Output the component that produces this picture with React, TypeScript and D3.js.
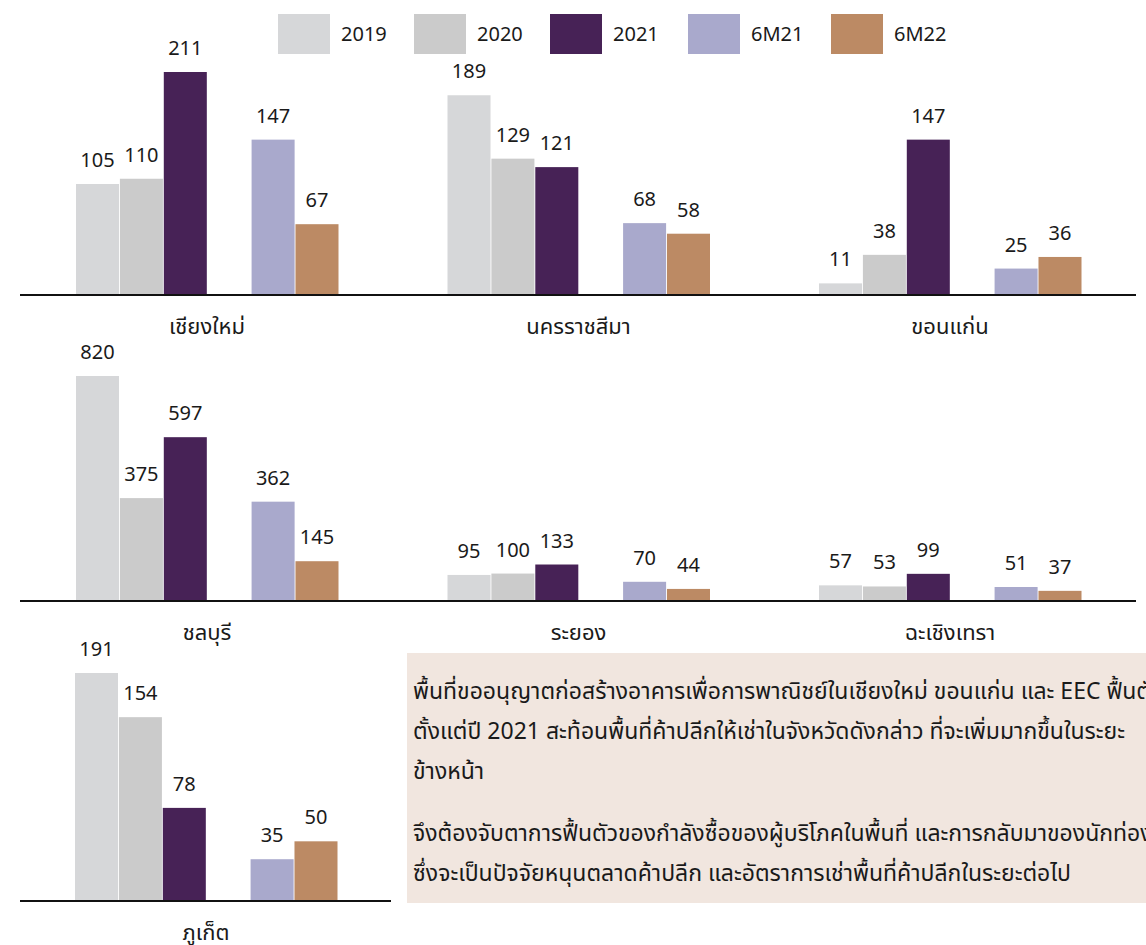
import React from "react";
import * as d3 from "d3";

const series = ["2019", "2020", "2021", "6M21", "6M22"];
const colors = ["#d6d7d9", "#cbcbcb", "#472256", "#a9a9cc", "#bc8a64"];
const slots = ["2019", "2020", "2021", "gap", "6M21", "6M22"];

const provinces = ["เชียงใหม่", "นครราชสีมา", "ขอนแก่น", "ชลบุรี", "ระยอง", "ฉะเชิงเทรา", "ภูเก็ต"];
const vChiangMai = [105, 110, 211, 147, 67];
const vKorat = [189, 129, 121, 68, 58];
const vKhonKaen = [11, 38, 147, 25, 36];
const vChonburi = [820, 375, 597, 362, 145];
const vRayong = [95, 100, 133, 70, 44];
const vChachoengsao = [57, 53, 99, 51, 37];
const vPhuket = [191, 154, 78, 35, 50];
const allValues = [vChiangMai, vKorat, vKhonKaen, vChonburi, vRayong, vChachoengsao, vPhuket];

const noteLines1 = [
  "พื้นที่ขออนุญาตก่อสร้างอาคารเพื่อการพาณิชย์ในเชียงใหม่ ขอนแก่น และ EEC ฟื้นตัว",
  "ตั้งแต่ปี 2021 สะท้อนพื้นที่ค้าปลีกให้เช่าในจังหวัดดังกล่าว ที่จะเพิ่มมากขึ้นในระยะ",
  "ข้างหน้า",
];
const noteLines2 = [
  "จึงต้องจับตาการฟื้นตัวของกำลังซื้อของผู้บริโภคในพื้นที่ และการกลับมาของนักท่องเที่ยว",
  "ซึ่งจะเป็นปัจจัยหนุนตลาดค้าปลีก และอัตราการเช่าพื้นที่ค้าปลีกในระยะต่อไป",
];

const W = 1146;
const H = 945;
const FONT = "'Noto Sans', 'Noto Sans Thai', 'Open Sans', sans-serif";

// layout
const rowBase = [295, 601, 901];
const rowHeight = [223, 225, 228];
const colX0 = 76;
const colStep = 371.5;
const legendX = [278, 414, 550, 688, 831];

export default function App() {
  const band = d3.scaleBand<string>().domain(slots).range([0, 262.5]).paddingInner(0.02).paddingOuter(0);

  const rowMax = [0, 1, 2].map((r) =>
    d3.max(allValues.filter((_, i) => Math.floor(i / 3) === r).flat()) as number
  );
  const yScales = [0, 1, 2].map((r) =>
    d3.scaleLinear().domain([0, rowMax[r]]).range([rowBase[r], rowBase[r] - rowHeight[r]])
  );

  return (
    <svg
      width={W}
      height={H}
      style={{ position: "absolute", left: 0, top: 0, display: "block", background: "#fff" }}
      fontFamily={FONT}
    >
      {/* legend */}
      {series.map((s, i) => (
        <g key={s} transform={`translate(${legendX[i]},14)`}>
          <rect width={52} height={40} fill={colors[i]} />
          <text x={63} y={27} fontSize={20} fill="#1a1a1a">
            {s}
          </text>
        </g>
      ))}

      {/* axis lines */}
      <line x1={20} x2={1136} y1={rowBase[0]} y2={rowBase[0]} stroke="#111" strokeWidth={2} />
      <line x1={20} x2={1136} y1={rowBase[1]} y2={rowBase[1]} stroke="#111" strokeWidth={2} />
      <line x1={20} x2={391} y1={rowBase[2]} y2={rowBase[2]} stroke="#111" strokeWidth={2} />

      {provinces.map((p, pi) => {
        const row = Math.floor(pi / 3);
        const col = pi % 3;
        const x0 = colX0 + col * colStep - (row === 2 ? 1 : 0);
        const y = yScales[row];
        const vals = allValues[pi];
        return (
          <g key={p} transform={`translate(${x0},0)`}>
            {vals.map((v, si) => {
              const bx = band(series[si]) as number;
              return (
                <g key={si}>
                  <rect
                    x={bx}
                    y={y(v)}
                    width={band.bandwidth()}
                    height={rowBase[row] - y(v) - 1}
                    fill={colors[si]}
                  />
                  <text
                    x={bx + band.bandwidth() / 2}
                    y={y(v) - 17}
                    textAnchor="middle"
                    fontSize={20}
                    fill="#1a1a1a"
                  >
                    {v}
                  </text>
                </g>
              );
            })}
            <text x={131} y={rowBase[row] + 39} textAnchor="middle" fontSize={22} fill="#1a1a1a">
              {p}
            </text>
          </g>
        );
      })}

      {/* note box */}
      <rect x={407} y={653} width={W - 407} height={250} fill="#f1e6df" />
      <g fontSize={23} fill="#1a1a1a">
        {noteLines1.map((t, i) => (
          <text key={"a" + i} x={413} y={699 + i * 40}>
            {t}
          </text>
        ))}
        {noteLines2.map((t, i) => (
          <text key={"b" + i} x={413} y={841 + i * 40}>
            {t}
          </text>
        ))}
      </g>
    </svg>
  );
}
